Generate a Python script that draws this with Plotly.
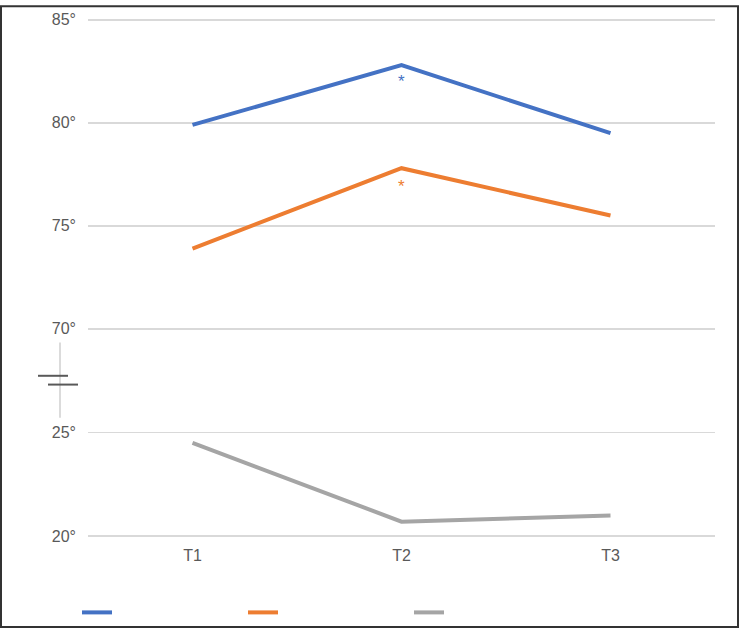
import plotly.graph_objects as go

categories = ["T1", "T2", "T3"]
series_a = [79.9, 82.8, 79.5]   # blue (upper axis)
series_b = [73.9, 77.8, 75.5]   # orange (upper axis)
series_c = [24.5, 20.7, 21.0]   # gray (lower axis)
star_a = 82.0
star_b = 76.9
upper_ticks = [70, 75, 80, 85]
lower_ticks = [20, 25]

W, H = 739, 637
L, R, T, B = 88, 24, 10, 88
pw, ph = W - L - R, H - T - B

def px_x(x):
    return (x - L) / pw

def px_y(y):
    return (H - B - y) / ph

grey_txt = "#595959"
grid = "#d9d9d9"
font_fam = "Liberation Sans, Arial, sans-serif"

# pixel positions of the extreme gridlines of each axis part
up_top, up_bot = 15, 331
lo_top, lo_bot = 437, 543
eps = 0.15
up_ppu = (up_bot - up_top) / (upper_ticks[-1] - upper_ticks[0])
lo_ppu = (lo_bot - lo_top) / (lower_ticks[-1] - lower_ticks[0])

fig = go.Figure()
fig.add_trace(go.Scatter(x=categories, y=series_a, mode="lines", name="",
                         line=dict(color="#4472C4", width=4), yaxis="y2"))
fig.add_trace(go.Scatter(x=categories, y=series_b, mode="lines", name="",
                         line=dict(color="#ED7D31", width=4), yaxis="y2"))
fig.add_trace(go.Scatter(x=categories, y=series_c, mode="lines", name="",
                         line=dict(color="#A5A5A5", width=4), yaxis="y"))

fig.add_annotation(x="T2", y=star_a, yref="y2", text="*", showarrow=False,
                   font=dict(color="#4472C4", size=17, family=font_fam))
fig.add_annotation(x="T2", y=star_b, yref="y2", text="*", showarrow=False,
                   font=dict(color="#ED7D31", size=17, family=font_fam))

# axis break marker
fig.add_shape(type="line", xref="paper", yref="paper",
              x0=px_x(60), x1=px_x(60), y0=px_y(345), y1=px_y(422),
              line=dict(color="#cfcfcf", width=1.5))
fig.add_shape(type="line", xref="paper", yref="paper",
              x0=px_x(38), x1=px_x(68), y0=px_y(379), y1=px_y(379),
              line=dict(color="#595959", width=2))
fig.add_shape(type="line", xref="paper", yref="paper",
              x0=px_x(48), x1=px_x(78), y0=px_y(388), y1=px_y(388),
              line=dict(color="#595959", width=2))
# outer frame
fig.add_shape(type="rect", xref="paper", yref="paper",
              x0=px_x(1), x1=px_x(738), y0=px_y(636), y1=px_y(1),
              line=dict(color="#333333", width=2), layer="above")

fig.update_layout(
    width=W, height=H,
    margin=dict(l=L, r=R, t=T, b=B),
    paper_bgcolor="white", plot_bgcolor="white",
    font=dict(family=font_fam, color=grey_txt, size=16),
    xaxis=dict(range=[-0.5, 2.5], showgrid=False, showline=False, zeroline=False,
               ticks="", ticklabelstandoff=5, tickfont=dict(size=16, color=grey_txt)),
    yaxis=dict(domain=[px_y(lo_bot + eps * lo_ppu), px_y(lo_top - eps * lo_ppu)],
               range=[lower_ticks[0] - eps, lower_ticks[-1] + eps],
               tickmode="array", tickvals=lower_ticks,
               ticktext=[f"{v}°" for v in lower_ticks],
               showgrid=True, gridcolor=grid, gridwidth=1.5,
               zeroline=False, showline=False, ticks="", ticklabelstandoff=11,
               tickfont=dict(size=16, color=grey_txt)),
    yaxis2=dict(domain=[px_y(up_bot + eps * up_ppu), px_y(up_top - eps * up_ppu)],
                range=[upper_ticks[0] - eps, upper_ticks[-1] + eps],
                tickmode="array", tickvals=upper_ticks,
                ticktext=[f"{v}°" for v in upper_ticks],
                showgrid=True, gridcolor=grid, gridwidth=1.5,
                zeroline=False, showline=False, ticks="", anchor="x",
                ticklabelstandoff=11, tickfont=dict(size=16, color=grey_txt)),
    showlegend=True,
    hovermode=False,
    legend=dict(orientation="h", x=px_x(77), xanchor="left",
                y=px_y(621), yanchor="middle",
                entrywidth=121, entrywidthmode="pixels",
                font=dict(size=12), bgcolor="rgba(0,0,0,0)"),
)

post = (
    "var d=document.documentElement,b=document.body;"
    "d.style.margin='0';d.style.padding='0';d.style.overflow='hidden';"
    "d.style.height='637px';"
    "b.style.margin='0';b.style.padding='0';b.style.overflow='hidden';"
    "b.style.height='637px';"
)

fig.write_html("out.html", config={"displayModeBar": False, "staticPlot": True},
               post_script=post)
